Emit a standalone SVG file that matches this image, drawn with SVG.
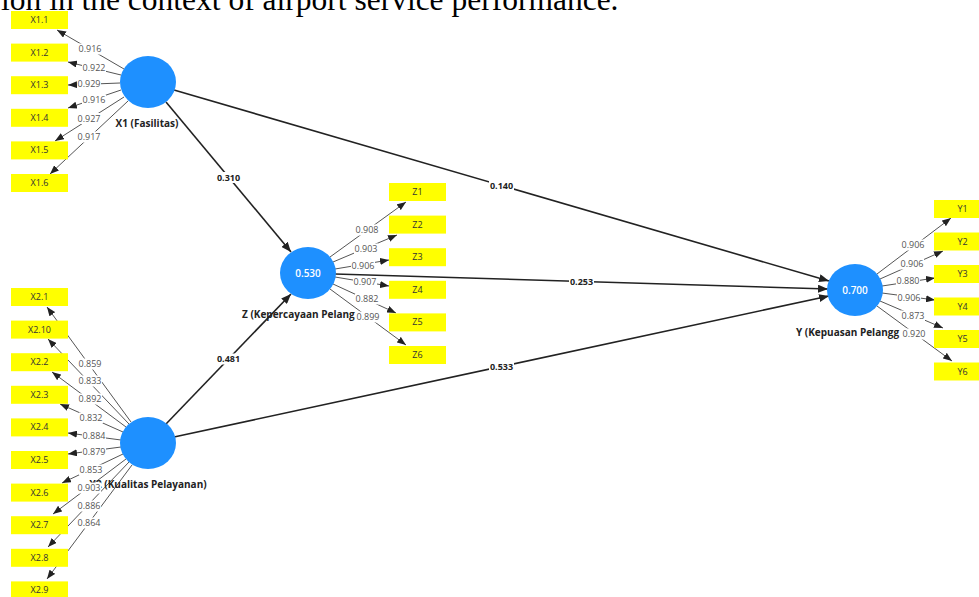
<svg xmlns="http://www.w3.org/2000/svg" width="979" height="597" viewBox="0 0 979 597">
<defs>
<style>
.bx{fill:#ffff00}
.bt{font-family:"Open Sans","Noto Sans",sans-serif;font-size:9px;fill:#333;text-anchor:middle}
.lv{fill:#1e90ff}
.val{font-family:"Open Sans","Noto Sans",sans-serif;font-size:10px;font-weight:600;fill:#fff;text-anchor:middle}
.nl{font-family:"Open Sans","Noto Sans",sans-serif;font-size:10px;font-weight:bold;fill:#222}
.ind{stroke:#555;stroke-width:1;marker-end:url(#ai)}
.str{stroke:#222;stroke-width:1.6;marker-end:url(#ah)}
.lb rect{fill:#fff}
.lb text{font-family:"Open Sans","Noto Sans",sans-serif;font-size:9px;fill:#555;text-anchor:middle}
.pb rect{fill:#fff}
.pb text{font-family:"Open Sans","Noto Sans",sans-serif;font-size:9px;font-weight:bold;fill:#222;text-anchor:middle}
.top{font-family:"Liberation Serif","Times New Roman",serif;font-size:31.5px;fill:#000}
</style>
<marker id="ah" viewBox="0 0 10 8" refX="10" refY="4" markerWidth="10" markerHeight="8" markerUnits="userSpaceOnUse" orient="auto"><path d="M0,0 L10,4 L0,8 z" fill="#222"/></marker>
<marker id="ai" viewBox="0 0 9 7" refX="9" refY="3.5" markerWidth="9" markerHeight="7" markerUnits="userSpaceOnUse" orient="auto"><path d="M0,0 L9,3.5 L0,7 z" fill="#222"/></marker>
</defs>
<rect width="979" height="597" fill="#fff"/>
<text class="top" x="1" y="9.5">ion in the context of airport service performance.</text>

<g id="connectors">
<line class="str" x1="166" y1="102" x2="291" y2="252"/>
<line class="str" x1="166" y1="424" x2="291" y2="294"/>
<line class="str" x1="174" y1="90" x2="829" y2="281"/>
<line class="str" x1="335" y1="274" x2="828" y2="289"/>
<line class="str" x1="174" y1="437" x2="829" y2="296"/>
<line class="ind" x1="124" y1="69" x2="57" y2="30"/>
<line class="ind" x1="121" y1="75" x2="68" y2="62"/>
<line class="ind" x1="120" y1="83" x2="68" y2="85"/>
<line class="ind" x1="121" y1="90" x2="68" y2="108"/>
<line class="ind" x1="124" y1="97" x2="55" y2="141"/>
<line class="ind" x1="128" y1="101" x2="50" y2="174"/>
<line class="ind" x1="131" y1="422" x2="47" y2="307"/>
<line class="ind" x1="129" y1="424" x2="48" y2="339"/>
<line class="ind" x1="126" y1="427" x2="52" y2="372"/>
<line class="ind" x1="123" y1="432" x2="60" y2="404"/>
<line class="ind" x1="121" y1="440" x2="68" y2="433"/>
<line class="ind" x1="121" y1="447" x2="68" y2="454"/>
<line class="ind" x1="123" y1="454" x2="62" y2="483"/>
<line class="ind" x1="126" y1="459" x2="53" y2="514"/>
<line class="ind" x1="129" y1="462" x2="48" y2="547"/>
<line class="ind" x1="132" y1="465" x2="47" y2="579"/>
<line class="ind" x1="330" y1="257" x2="406" y2="202"/>
<line class="ind" x1="333" y1="262" x2="397" y2="235"/>
<line class="ind" x1="335" y1="269" x2="389" y2="260"/>
<line class="ind" x1="335" y1="277" x2="389" y2="286"/>
<line class="ind" x1="333" y1="284" x2="396" y2="313"/>
<line class="ind" x1="330" y1="289" x2="406" y2="345"/>
<line class="ind" x1="877" y1="274" x2="951" y2="218"/>
<line class="ind" x1="880" y1="279" x2="943" y2="251"/>
<line class="ind" x1="882" y1="286" x2="935" y2="278"/>
<line class="ind" x1="882" y1="293" x2="935" y2="300"/>
<line class="ind" x1="880" y1="301" x2="943" y2="328"/>
<line class="ind" x1="877" y1="306" x2="952" y2="361"/>
</g>

<g id="X1">
<ellipse class="lv" cx="148" cy="82" rx="28" ry="26"/>
<text class="nl" x="147" y="126.5" text-anchor="middle">X1 (Fasilitas)</text>
</g>
<g id="X2">
<ellipse class="lv" cx="148" cy="443" rx="28" ry="26"/>
<text class="nl" x="148" y="487.5" text-anchor="middle">X2 (Kualitas Pelayanan)</text>
</g>
<g id="Z">
<ellipse class="lv" cx="308" cy="273" rx="28" ry="26"/>
<text class="val" x="308" y="276.5">0.530</text>
<text class="nl" x="242" y="317.5">Z (Kepercayaan Pelang</text>
</g>
<g id="Y">
<ellipse class="lv" cx="855" cy="290" rx="28" ry="26"/>
<text class="val" x="855" y="293.5">0.700</text>
<text class="nl" x="796" y="335.5">Y (Kepuasan Pelangg</text>
</g>

<g id="X1.1"><rect class="bx" x="11" y="11" width="57" height="18"/><text class="bt" x="39.5" y="23">X1.1</text></g>
<g id="X1.2"><rect class="bx" x="11" y="43.6" width="57" height="18"/><text class="bt" x="39.5" y="55.6">X1.2</text></g>
<g id="X1.3"><rect class="bx" x="11" y="76.2" width="57" height="18"/><text class="bt" x="39.5" y="88.2">X1.3</text></g>
<g id="X1.4"><rect class="bx" x="11" y="108.8" width="57" height="18"/><text class="bt" x="39.5" y="120.8">X1.4</text></g>
<g id="X1.5"><rect class="bx" x="11" y="141.4" width="57" height="18"/><text class="bt" x="39.5" y="153.4">X1.5</text></g>
<g id="X1.6"><rect class="bx" x="11" y="174" width="57" height="18"/><text class="bt" x="39.5" y="186">X1.6</text></g>

<g id="X2.1"><rect class="bx" x="11" y="288" width="57" height="18"/><text class="bt" x="39.5" y="300">X2.1</text></g>
<g id="X2.10"><rect class="bx" x="11" y="320.6" width="57" height="18"/><text class="bt" x="39.5" y="332.6">X2.10</text></g>
<g id="X2.2"><rect class="bx" x="11" y="353.2" width="57" height="18"/><text class="bt" x="39.5" y="365.2">X2.2</text></g>
<g id="X2.3"><rect class="bx" x="11" y="385.8" width="57" height="18"/><text class="bt" x="39.5" y="397.8">X2.3</text></g>
<g id="X2.4"><rect class="bx" x="11" y="418.4" width="57" height="18"/><text class="bt" x="39.5" y="430.4">X2.4</text></g>
<g id="X2.5"><rect class="bx" x="11" y="451" width="57" height="18"/><text class="bt" x="39.5" y="463">X2.5</text></g>
<g id="X2.6"><rect class="bx" x="11" y="483.6" width="57" height="18"/><text class="bt" x="39.5" y="495.6">X2.6</text></g>
<g id="X2.7"><rect class="bx" x="11" y="516.2" width="57" height="18"/><text class="bt" x="39.5" y="528.2">X2.7</text></g>
<g id="X2.8"><rect class="bx" x="11" y="548.8" width="57" height="18"/><text class="bt" x="39.5" y="560.8">X2.8</text></g>
<g id="X2.9"><rect class="bx" x="11" y="581.4" width="57" height="18"/><text class="bt" x="39.5" y="593.4">X2.9</text></g>

<g id="Z1"><rect class="bx" x="389" y="183" width="57" height="18"/><text class="bt" x="417.5" y="195">Z1</text></g>
<g id="Z2"><rect class="bx" x="389" y="215.6" width="57" height="18"/><text class="bt" x="417.5" y="227.6">Z2</text></g>
<g id="Z3"><rect class="bx" x="389" y="248.2" width="57" height="18"/><text class="bt" x="417.5" y="260.2">Z3</text></g>
<g id="Z4"><rect class="bx" x="389" y="280.8" width="57" height="18"/><text class="bt" x="417.5" y="292.8">Z4</text></g>
<g id="Z5"><rect class="bx" x="389" y="313.4" width="57" height="18"/><text class="bt" x="417.5" y="325.4">Z5</text></g>
<g id="Z6"><rect class="bx" x="389" y="346" width="57" height="18"/><text class="bt" x="417.5" y="358">Z6</text></g>

<g id="Y1"><rect class="bx" x="934" y="200" width="57" height="18"/><text class="bt" x="962.5" y="212">Y1</text></g>
<g id="Y2"><rect class="bx" x="934" y="232.5" width="57" height="18"/><text class="bt" x="962.5" y="244.5">Y2</text></g>
<g id="Y3"><rect class="bx" x="934" y="265" width="57" height="18"/><text class="bt" x="962.5" y="277">Y3</text></g>
<g id="Y4"><rect class="bx" x="934" y="297.5" width="57" height="18"/><text class="bt" x="962.5" y="309.5">Y4</text></g>
<g id="Y5"><rect class="bx" x="934" y="330" width="57" height="18"/><text class="bt" x="962.5" y="342">Y5</text></g>
<g id="Y6"><rect class="bx" x="934" y="362.5" width="57" height="18"/><text class="bt" x="962.5" y="374.5">Y6</text></g>

<g id="connector-labels">
<g class="pb"><rect x="216" y="172" width="25" height="11"/><text x="228.5" y="180.5">0.310</text></g>
<g class="pb"><rect x="216" y="353.5" width="25" height="11"/><text x="228.5" y="362">0.481</text></g>
<g class="pb"><rect x="489" y="180.5" width="25" height="11"/><text x="501.5" y="189">0.140</text></g>
<g class="pb"><rect x="569" y="276" width="25" height="11"/><text x="581.5" y="284.5">0.253</text></g>
<g class="pb"><rect x="489" y="361" width="25" height="11"/><text x="501.5" y="369.5">0.533</text></g>

<g class="lb"><rect x="78" y="43.5" width="24" height="11"/><text x="90" y="52">0.916</text></g>
<g class="lb"><rect x="82" y="62.5" width="24" height="11"/><text x="94" y="71">0.922</text></g>
<g class="lb"><rect x="77" y="78" width="24" height="11"/><text x="89" y="86.5">0.929</text></g>
<g class="lb"><rect x="82" y="94.5" width="24" height="11"/><text x="94" y="103">0.916</text></g>
<g class="lb"><rect x="77" y="113" width="24" height="11"/><text x="89" y="121.5">0.927</text></g>
<g class="lb"><rect x="77" y="131.5" width="24" height="11"/><text x="89" y="140">0.917</text></g>

<g class="lb"><rect x="78" y="358.5" width="24" height="11"/><text x="90" y="367">0.859</text></g>
<g class="lb"><rect x="78" y="375.5" width="24" height="11"/><text x="90" y="384">0.833</text></g>
<g class="lb"><rect x="78" y="393.5" width="24" height="11"/><text x="90" y="402">0.892</text></g>
<g class="lb"><rect x="79" y="412.5" width="24" height="11"/><text x="91" y="421">0.832</text></g>
<g class="lb"><rect x="82" y="430.5" width="24" height="11"/><text x="94" y="439">0.884</text></g>
<g class="lb"><rect x="82" y="446.5" width="24" height="11"/><text x="94" y="455">0.879</text></g>
<g class="lb"><rect x="79" y="464.5" width="24" height="11"/><text x="91" y="473">0.853</text></g>
<g class="lb"><rect x="77" y="482.5" width="24" height="11"/><text x="89" y="491">0.903</text></g>
<g class="lb"><rect x="77" y="500.5" width="24" height="11"/><text x="89" y="509">0.886</text></g>
<g class="lb"><rect x="77" y="517.5" width="24" height="11"/><text x="89" y="526">0.864</text></g>

<g class="lb"><rect x="355" y="224.5" width="24" height="11"/><text x="367" y="233">0.908</text></g>
<g class="lb"><rect x="354" y="243.5" width="24" height="11"/><text x="366" y="252">0.903</text></g>
<g class="lb"><rect x="351" y="260.5" width="24" height="11"/><text x="363" y="269">0.906</text></g>
<g class="lb"><rect x="353" y="276.5" width="24" height="11"/><text x="365" y="285">0.907</text></g>
<g class="lb"><rect x="355" y="293.5" width="24" height="11"/><text x="367" y="302">0.882</text></g>
<g class="lb"><rect x="356" y="311.5" width="24" height="11"/><text x="368" y="320">0.899</text></g>

<g class="lb"><rect x="901" y="239.5" width="24" height="11"/><text x="913" y="248">0.906</text></g>
<g class="lb"><rect x="900" y="258.5" width="24" height="11"/><text x="912" y="267">0.906</text></g>
<g class="lb"><rect x="896" y="275.5" width="24" height="11"/><text x="908" y="284">0.880</text></g>
<g class="lb"><rect x="897" y="292.5" width="24" height="11"/><text x="909" y="301">0.906</text></g>
<g class="lb"><rect x="901" y="310.5" width="24" height="11"/><text x="913" y="319">0.873</text></g>
<g class="lb"><rect x="902" y="328.5" width="24" height="11"/><text x="914" y="337">0.920</text></g>
</g>
</svg>
